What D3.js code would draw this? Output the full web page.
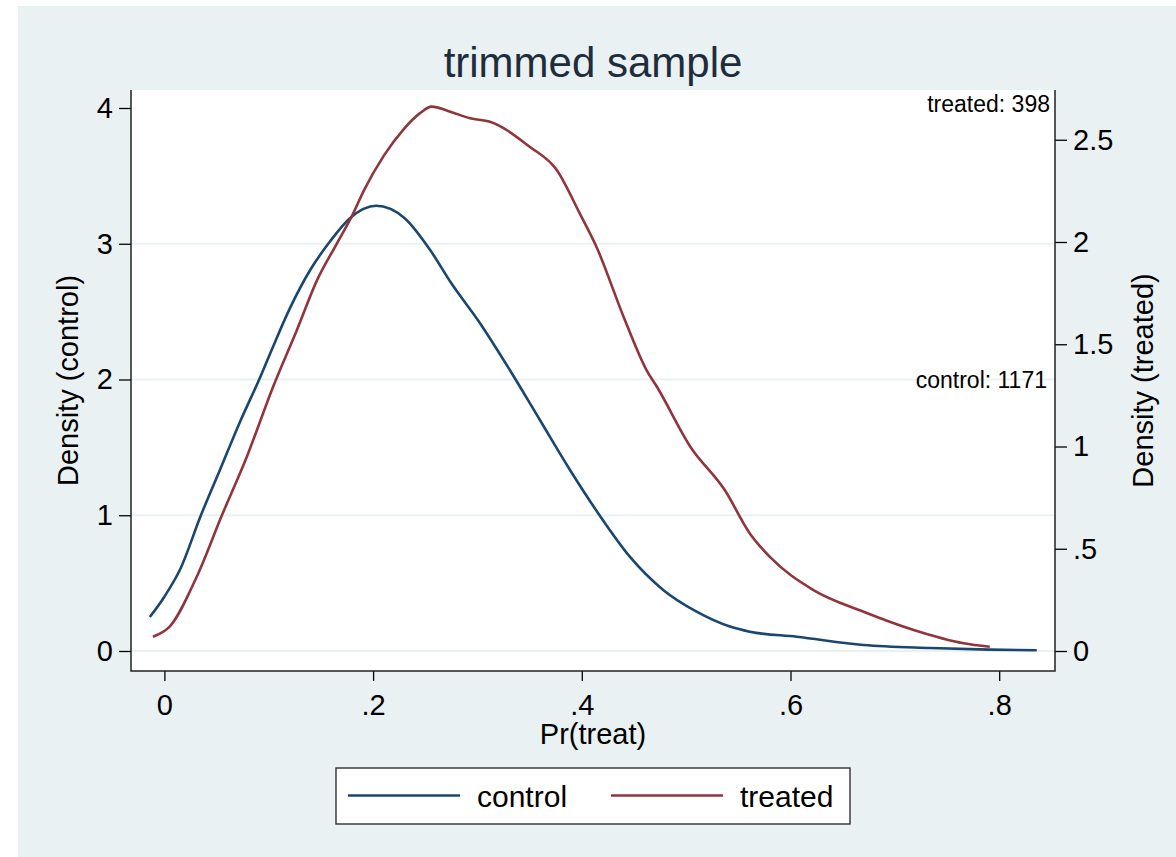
<!DOCTYPE html>
<html>
<head>
<meta charset="utf-8">
<script src="https://cdn.jsdelivr.net/npm/d3@7"></script>
<style>
  body { margin: 0; background: #fff; }
  text { font-family: "Liberation Sans", Arial, sans-serif; fill: #000; }
</style>
</head>
<body>
<script>
// control density (left axis)
var controlX = [-0.014, 0.0, 0.015, 0.035, 0.053, 0.072, 0.092, 0.104, 0.12, 0.14, 0.159, 0.178, 0.203, 0.23, 0.255, 0.274, 0.302, 0.331, 0.36, 0.389, 0.417, 0.446, 0.478, 0.51, 0.542, 0.561, 0.606, 0.67, 0.734, 0.79, 0.836];
var controlD = [0.25, 0.40, 0.60, 1.0, 1.33, 1.68, 2.02, 2.24, 2.52, 2.81, 3.02, 3.19, 3.28, 3.19, 2.95, 2.72, 2.42, 2.07, 1.70, 1.33, 1.0, 0.695, 0.45, 0.29, 0.18, 0.142, 0.105, 0.044, 0.022, 0.01, 0.005];
// treated density (right axis)
var treatedX = [-0.011, 0.005, 0.031, 0.055, 0.079, 0.104, 0.127, 0.146, 0.165, 0.18, 0.191, 0.21, 0.229, 0.245, 0.256, 0.274, 0.293, 0.312, 0.35, 0.376, 0.398, 0.414, 0.44, 0.462, 0.472, 0.504, 0.537, 0.561, 0.58, 0.622, 0.67, 0.718, 0.766, 0.791];
var treatedD = [0.07, 0.119, 0.363, 0.662, 0.95, 1.29, 1.57, 1.81, 1.99, 2.13, 2.25, 2.42, 2.55, 2.63, 2.662, 2.637, 2.605, 2.588, 2.466, 2.352, 2.14, 1.977, 1.635, 1.374, 1.292, 0.999, 0.787, 0.575, 0.461, 0.298, 0.192, 0.103, 0.038, 0.021];

var xTicks = [0, 0.2, 0.4, 0.6, 0.8];
var leftTicks = [0, 1, 2, 3, 4];
var rightTicks = [0, 0.5, 1, 1.5, 2, 2.5];
var gridTicks = [0, 1, 2, 3];
var seriesNames = ["control", "treated"];
var colors = ["#1a476f", "#90353b"];

var W = 1176, H = 857;
var svg = d3.select("body").append("svg").attr("width", W).attr("height", H);

svg.append("rect").attr("x", 18).attr("y", 6).attr("width", W - 18).attr("height", H - 6)
    .attr("fill", "#eaf1f3");

var L = 131, R = 1055, T = 90, B = 671;
svg.append("rect").attr("x", L).attr("y", T).attr("width", R - L).attr("height", B - T)
    .attr("fill", "#fff");

var x = d3.scaleLinear().domain([0, 0.8]).range([164.4, 999.2]);
var yL = d3.scaleLinear().domain([0, 4]).range([651, 108]);
var yR = d3.scaleLinear().domain([0, 2.5]).range([651, 139.75]);

function fmt(v) { return String(v).replace(/^0\./, "."); }

// grid
svg.append("g").selectAll("line").data(gridTicks).enter().append("line")
    .attr("x1", L).attr("x2", R)
    .attr("y1", function(d) { return yL(d); }).attr("y2", function(d) { return yL(d); })
    .attr("stroke", "#eaf1f3").attr("stroke-width", 2);

// lines
var lineC = d3.line().x(function(d) { return x(d[0]); }).y(function(d) { return yL(d[1]); })
    .curve(d3.curveMonotoneX);
var lineT = d3.line().x(function(d) { return x(d[0]); }).y(function(d) { return yR(d[1]); })
    .curve(d3.curveMonotoneX);

svg.append("path").datum(d3.zip(controlX, controlD)).attr("d", lineC)
    .attr("fill", "none").attr("stroke", colors[0]).attr("stroke-width", 2.6);
svg.append("path").datum(d3.zip(treatedX, treatedD)).attr("d", lineT)
    .attr("fill", "none").attr("stroke", colors[1]).attr("stroke-width", 2.6);

// axes
var gL = svg.append("g").attr("transform", "translate(" + L + ",0)")
    .call(d3.axisLeft(yL).tickValues(leftTicks).tickSize(12).tickPadding(6).tickFormat(fmt));
var gR = svg.append("g").attr("transform", "translate(" + R + ",0)")
    .call(d3.axisRight(yR).tickValues(rightTicks).tickSize(12).tickPadding(6).tickFormat(fmt));
var gB = svg.append("g").attr("transform", "translate(0," + B + ")")
    .call(d3.axisBottom(x).tickValues(xTicks).tickSize(10).tickPadding(13).tickFormat(fmt));

[gL, gR, gB].forEach(function(g) {
  g.select(".domain").remove();
  g.selectAll("line").attr("stroke", "#000").attr("stroke-width", 1.3);
  g.selectAll("text").style("font-size", "29px").style("font-family", "Liberation Sans, Arial, sans-serif");
});

svg.append("path")
    .attr("d", "M" + L + "," + T + "V" + B + "H" + R + "V" + T)
    .attr("fill", "none").attr("stroke", "#222").attr("stroke-width", 1.5);

// titles
svg.append("text").attr("x", (L + R) / 2).attr("y", 77).attr("text-anchor", "middle")
    .style("font-size", "42px").style("fill", "#1e2d3b").text("trimmed sample");
svg.append("text").attr("x", (L + R) / 2).attr("y", 744).attr("text-anchor", "middle")
    .style("font-size", "29px").text("Pr(treat)");
svg.append("text").attr("transform", "translate(78," + (T + B) / 2 + ")rotate(-90)")
    .attr("text-anchor", "middle").style("font-size", "29px").text("Density (control)");
svg.append("text").attr("transform", "translate(1153," + (T + B) / 2 + ")rotate(-90)")
    .attr("text-anchor", "middle").style("font-size", "29px").text("Density (treated)");

// counts
svg.append("text").attr("x", 1050).attr("y", 112).attr("text-anchor", "end")
    .style("font-size", "23px").text("treated: 398");
svg.append("text").attr("x", 1047).attr("y", 388).attr("text-anchor", "end")
    .style("font-size", "23px").text("control: 1171");

// legend
var lg = svg.append("g");
lg.append("rect").attr("x", 336).attr("y", 768).attr("width", 514).attr("height", 56)
    .attr("fill", "#fff").attr("stroke", "#222").attr("stroke-width", 1.3);
var lx = [348, 611];
seriesNames.forEach(function(n, i) {
  lg.append("line").attr("x1", lx[i]).attr("x2", lx[i] + 112).attr("y1", 795.5).attr("y2", 795.5)
      .attr("stroke", colors[i]).attr("stroke-width", 2.6);
  lg.append("text").attr("x", lx[i] + 129).attr("y", 807).style("font-size", "30px").text(n);
});
</script>
</body>
</html>
